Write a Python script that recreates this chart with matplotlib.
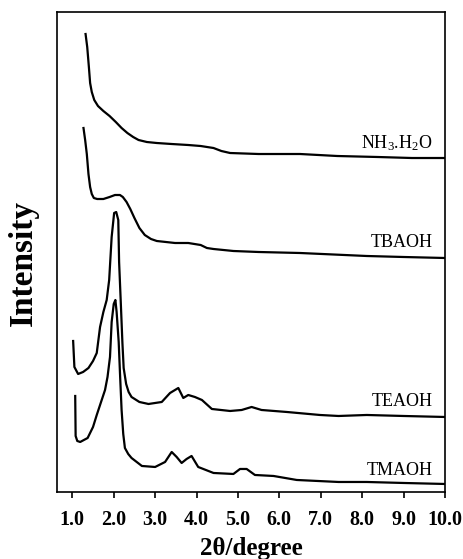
import matplotlib
matplotlib.use("Agg")
import matplotlib.pyplot as plt

plt.rcParams['font.family'] = ['Liberation Serif', 'DejaVu Serif']
plt.rcParams['mathtext.fontset'] = 'custom'
plt.rcParams['mathtext.rm'] = 'Liberation Serif'
plt.rcParams['mathtext.it'] = 'Liberation Serif:italic'
plt.rcParams['mathtext.bf'] = 'Liberation Serif:bold'

# ---- data (2theta in degrees, intensity in arbitrary offset units) ----
nh3_x = [1.32, 1.36, 1.40, 1.43, 1.47, 1.53, 1.62, 1.75, 1.90, 2.05, 2.19, 2.33, 2.47,
         2.60, 2.80, 3.04, 3.40, 3.80, 4.10, 4.41, 4.60, 4.81, 5.50, 6.50, 7.40, 8.38,
         9.20, 10.0]
nh3_y = [458, 445, 425, 409, 400, 392, 386, 381, 376, 370, 364, 359, 355,
         352, 350, 349, 348, 347, 346, 344, 341, 339, 338, 338, 336, 335,
         334, 334]

tba_x = [1.27, 1.31, 1.35, 1.39, 1.43, 1.47, 1.52, 1.60, 1.75, 1.90, 2.03, 2.15, 2.22,
         2.31, 2.40, 2.50, 2.62, 2.75, 2.90, 3.04, 3.48, 3.80, 4.10, 4.25, 4.41, 4.89,
         5.50, 6.50, 8.11, 9.00, 10.0]
tba_y = [364, 352, 338, 318, 305, 298, 294, 293, 293, 295, 297, 297, 295,
         290, 283, 274, 264, 257, 253, 251, 249, 249, 247, 244, 243, 241,
         240, 239, 236, 235, 234]

tea_x = [1.02, 1.05, 1.14, 1.26, 1.39, 1.50, 1.59, 1.67, 1.75, 1.83, 1.89, 1.95,
         2.01, 2.06, 2.11, 2.13, 2.17, 2.21, 2.24, 2.30, 2.36, 2.43, 2.62, 2.84, 3.16,
         3.36, 3.56, 3.68, 3.80, 3.96, 4.13, 4.37, 4.81, 5.09, 5.33, 5.57, 6.18, 6.98,
         7.43, 8.11, 9.00, 10.0]
tea_y = [151, 125, 118, 120, 124, 131, 139, 165, 180, 192, 212, 255,
         279, 280, 272, 230, 190, 149, 124, 108, 100, 95, 90, 88, 90,
         99, 104, 94, 97, 95, 92, 83, 81, 82, 85, 82, 80, 77,
         76, 77, 76, 75]

tma_x = [1.07, 1.08, 1.12, 1.19, 1.37, 1.50, 1.59, 1.67, 1.79, 1.85, 1.91, 1.95, 2.00,
         2.04, 2.07, 2.12, 2.15, 2.19, 2.23, 2.27, 2.35, 2.43, 2.68, 3.00, 3.24, 3.40,
         3.52, 3.64, 3.76, 3.88, 4.04, 4.41, 4.89, 5.05, 5.21, 5.41, 5.86, 6.42, 7.43,
         8.11, 9.00, 10.0]
tma_y = [96, 56, 51, 50, 54, 65, 77, 87, 102, 115, 135, 170, 188,
         192, 180, 150, 120, 82, 58, 44, 38, 34, 26, 25, 30, 40,
         35, 29, 33, 36, 25, 19, 18, 23, 23, 17, 16, 12, 10,
         10, 9, 8]

series = [
    (nh3_x, nh3_y, "NH$_3$.H$_2$O", 349),
    (tba_x, tba_y, "TBAOH", 249),
    (tea_x, tea_y, "TEAOH", 90),
    (tma_x, tma_y, "TMAOH", 21),
]

xticks = [1.0, 2.0, 3.0, 4.0, 5.0, 6.0, 7.0, 8.0, 9.0, 10.0]
xticklabels = ["1.0", "2.0", "3.0", "4.0", "5.0", "6.0", "7.0", "8.0", "9.0", "10.0"]

# ---- figure ----
fig = plt.figure(figsize=(4.63, 5.59), dpi=100)
ax = fig.add_axes([0.1231, 0.1199, 0.9611 - 0.1231, 0.9785 - 0.1199])

for xs, ys, name, ly in series:
    ax.plot(xs, ys, color='black', lw=1.6, solid_joinstyle='round')
    ax.text(9.71, ly, name, ha='right', va='center', fontsize=13, color='black')

ax.set_xlim(0.63, 10.0)
ax.set_ylim(0, 480)
ax.set_yticks([])
ax.set_xticks(xticks)
ax.set_xticklabels(xticklabels, fontsize=14.5, fontweight='bold')
ax.tick_params(axis='x', direction='out', length=4, width=1.2, pad=9)
for s in ax.spines.values():
    s.set_linewidth(1.2)

fig.text(0.5421, 1 - 549 / 559, "2θ/degree", ha='center', va='center',
         fontsize=18, fontweight='bold')
fig.text(23 / 463, 1 - 263 / 559, "Intensity", rotation=90, ha='center', va='center',
         fontsize=24, fontweight='bold')

fig.savefig("out.png", dpi=100)
